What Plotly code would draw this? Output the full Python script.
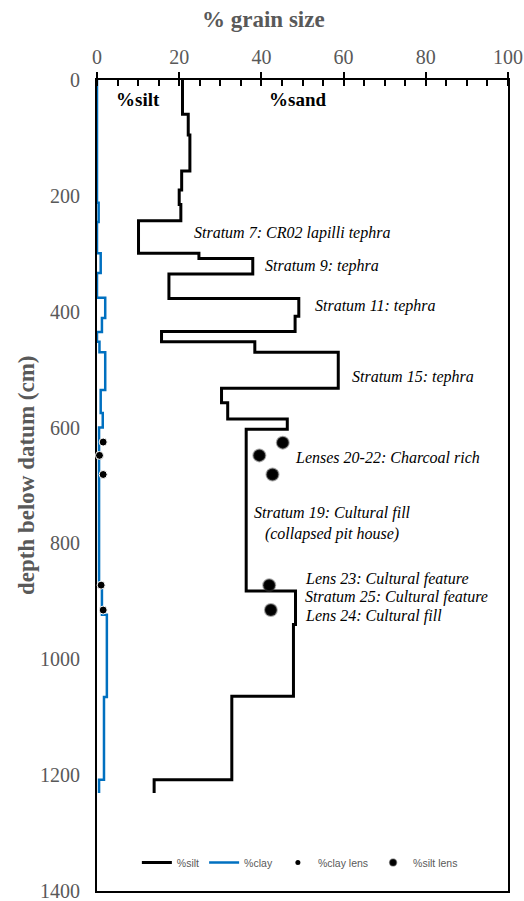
import plotly.graph_objects as go

# ---- data ----
silt_top = [0, 59, 95, 157, 190, 215, 243, 299, 308, 335, 377, 408, 434, 452, 470, 532, 557, 585, 603, 882, 940, 1064, 1208]
silt_bot = [59, 95, 157, 190, 215, 243, 299, 308, 335, 377, 408, 434, 452, 470, 532, 557, 585, 603, 882, 940, 1064, 1208, 1231]
silt_val = [20.8, 22.2, 22.6, 20.6, 20.0, 20.4, 10.1, 24.8, 37.9, 17.5, 49.1, 48.2, 15.7, 38.4, 58.7, 30.3, 31.8, 46.3, 36.3, 48.3, 47.8, 32.8, 13.9]

clay_top = [0, 212, 245, 299, 333, 376, 411, 435, 452, 470, 535, 575, 600, 868, 923, 1065, 1208]
clay_bot = [212, 245, 299, 333, 376, 411, 435, 452, 470, 535, 575, 600, 868, 923, 1065, 1208, 1231]
clay_val = [0.0, 0.4, 0.0, 0.9, 0.0, 2.0, 1.2, 0.0, 0.6, 2.0, 0.9, 1.4, 0.5, 1.2, 2.4, 1.7, 0.5]

clay_lens_x = [1.5, 0.6, 1.5, 1.0, 1.5]
clay_lens_depth = [625, 648, 681, 872, 915]
silt_lens_x = [45.2, 39.5, 42.7, 41.9, 42.3]
silt_lens_depth = [626, 648, 681, 872, 915]

labels_text = ["Stratum 7: CR02 lapilli tephra", "Stratum 9: tephra", "Stratum 11: tephra",
               "Stratum 15: tephra", "Lenses 20-22: Charcoal rich",
               "Lens 23: Cultural feature", "Stratum 25: Cultural feature", "Lens 24: Cultural fill"]
labels_x = [23.0, 40.4, 52.5, 61.6, 47.7, 50.2, 50.2, 50.2]
labels_depth = [264, 321, 390, 512, 652, 861, 893, 926]

x_ticks = [0, 20, 40, 60, 80, 100]
y_ticks = [0, 200, 400, 600, 800, 1000, 1200, 1400]


def steps(top, bot, val):
    xs, ys = [], []
    for t, b, v in zip(top, bot, val):
        xs += [v, v]
        ys += [t, b]
    return xs, ys


sx, sy = steps(silt_top, silt_bot, silt_val)
cx, cy = steps(clay_top, clay_bot, clay_val)

GREY = "#595959"
SERIF = "Liberation Serif, Times New Roman, serif"
BLUE = "rgb(0,112,192)"

fig = go.Figure()
fig.add_trace(go.Scatter(x=sx, y=sy, mode="lines", line=dict(color="black", width=3),
                         name="%silt"))
fig.add_trace(go.Scatter(x=cx, y=cy, mode="lines", line=dict(color=BLUE, width=2.5),
                         name="%clay"))
fig.add_trace(go.Scatter(x=clay_lens_x, y=clay_lens_depth, mode="markers", cliponaxis=False,
                         marker=dict(color="black", size=8, line=dict(color="white", width=1)),
                         name="%clay lens", showlegend=False))
fig.add_trace(go.Scatter(x=silt_lens_x, y=silt_lens_depth, mode="markers", cliponaxis=False,
                         marker=dict(color="black", size=12, line=dict(color="rgba(60,60,60,0.45)", width=2)),
                         name="%silt lens", showlegend=False))
# legend proxies (smaller symbols as in the reference legend)
fig.add_trace(go.Scatter(x=[None], y=[None], mode="markers",
                         marker=dict(color="black", size=5), name="%clay lens"))
fig.add_trace(go.Scatter(x=[None], y=[None], mode="markers",
                         marker=dict(color="black", size=7, line=dict(color="rgba(60,60,60,0.45)", width=1.5)),
                         name="%silt lens"))

for t, x, d in zip(labels_text, labels_x, labels_depth):
    fig.add_annotation(x=x, y=d, xref="x", yref="y", text="<i>" + t + "</i>", showarrow=False,
                       xanchor="left", yanchor="middle",
                       font=dict(family=SERIF, size=16, color="black"))
fig.add_annotation(x=57.4, y=765, xref="x", yref="y",
                   text="<i>Stratum 19: Cultural fill<br>(collapsed pit house)</i>", showarrow=False,
                   xanchor="center", yanchor="middle", align="center",
                   font=dict(family=SERIF, size=16, color="black"))
fig.add_annotation(x=9.9, y=34, xref="x", yref="y", text="<b>%silt</b>", showarrow=False,
                   xanchor="center", yanchor="middle", font=dict(family=SERIF, size=19, color="black"))
fig.add_annotation(x=48.9, y=34, xref="x", yref="y", text="<b>%sand</b>", showarrow=False,
                   xanchor="center", yanchor="middle", font=dict(family=SERIF, size=19, color="black"))

# axis titles
fig.add_annotation(x=0.406, y=1.074, xref="paper", yref="paper", text="<b>% grain size</b>",
                   showarrow=False, xanchor="center", yanchor="middle",
                   font=dict(family=SERIF, size=23, color=GREY))
fig.add_annotation(x=-0.170, y=0.513, xref="paper", yref="paper", text="<b>depth below datum (cm)</b>",
                   showarrow=False, xanchor="center", yanchor="middle", textangle=-90,
                   font=dict(family=SERIF, size=23, color=GREY))

fig.update_layout(
    width=524, height=901,
    margin=dict(l=97, r=16, t=80, b=10),
    paper_bgcolor="white", plot_bgcolor="white",
    showlegend=True,
    legend=dict(orientation="h", x=0.097, y=0.035, xanchor="left", yanchor="middle",
                bgcolor="rgba(0,0,0,0)", font=dict(family="Liberation Sans", size=10.5, color=GREY),
                itemwidth=30, tracegroupgap=0),
    xaxis=dict(side="top", range=[0, 100], tickvals=x_ticks, ticks="outside", ticklen=6,
               tickwidth=1.5, tickcolor="black", showline=True, linecolor="black", linewidth=2,
               mirror=True, showgrid=False, zeroline=False, ticklabelstandoff=0, automargin=False,
               ticklabeloverflow="allow",
               tickfont=dict(family=SERIF, size=20, color=GREY),
               minor=dict(dtick=5, ticks="inside", ticklen=6, tickwidth=1.5, tickcolor="black")),
    xaxis2=dict(overlaying="x", side="top", range=[0, 100], tickvals=x_ticks, ticks="inside",
                ticklen=6, tickwidth=1.5, tickcolor="black", showticklabels=False,
                showline=False, showgrid=False, zeroline=False, automargin=False),
    yaxis=dict(range=[1400, 0], tickvals=y_ticks, ticks="", showline=True, linecolor="black",
               linewidth=2, mirror=True, showgrid=False, zeroline=False, layer="below traces",
               automargin=False, ticklabelstandoff=11, ticklabeloverflow="allow",
               tickfont=dict(family=SERIF, size=20, color=GREY)),
)

fig.write_html("out.html")
